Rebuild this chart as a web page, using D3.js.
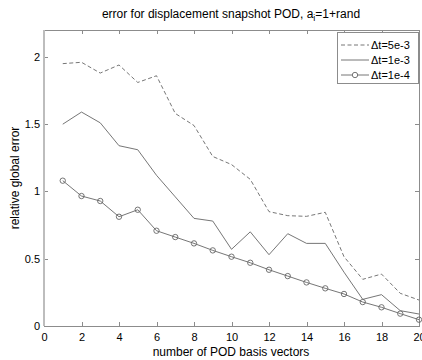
<!DOCTYPE html>
<html>
<head>
<meta charset="utf-8">
<script src="https://cdn.jsdelivr.net/npm/d3@7"></script>
<style>
  html, body { margin: 0; padding: 0; background: #fff; }
  svg { display: block; font-family: "Liberation Sans", Arial, Helvetica, sans-serif; }
</style>
</head>
<body>
<svg id="chart" width="422" height="360"></svg>
<script>
// Number of POD basis vectors
const basisCounts = [1,2,3,4,5,6,7,8,9,10,11,12,13,14,15,16,17,18,19,20];

// Relative global error for each time step
const errDt5e3 = [1.95,1.96,1.88,1.94,1.81,1.86,1.58,1.49,1.26,1.20,1.09,0.85,0.82,0.815,0.845,0.515,0.347,0.386,0.243,0.193];
const errDt1e3 = [1.50,1.59,1.51,1.34,1.31,1.12,0.96,0.80,0.78,0.57,0.70,0.53,0.686,0.614,0.614,0.40,0.198,0.233,0.114,0.089];
const errDt1e4 = [1.08,0.966,0.929,0.812,0.864,0.708,0.661,0.614,0.562,0.515,0.47,0.418,0.371,0.324,0.28,0.238,0.178,0.139,0.092,0.047];

const seriesLabels = ["\u0394t=5e-3", "\u0394t=1e-3", "\u0394t=1e-4"];
const xTicks = [0,2,4,6,8,10,12,14,16,18,20];
const yTicks = [0,0.5,1,1.5,2];

const svg = d3.select("#chart");
const m = { left: 44, right: 419, top: 30, bottom: 326 };

const x = d3.scaleLinear().domain([0, 20]).range([m.left, m.right]);
const y = d3.scaleLinear().domain([0, 2.2]).range([m.bottom, m.top]);

const axisCol = "#8c8c8c";
const lineCol = "#666";

// Frame
svg.append("rect")
  .attr("x", m.left).attr("y", m.top)
  .attr("width", m.right - m.left).attr("height", m.bottom - m.top)
  .attr("fill", "none").attr("stroke", axisCol).attr("stroke-width", 1)
  .attr("shape-rendering", "crispEdges");

// Bottom axis
const gx = svg.append("g").attr("transform", `translate(0,${m.bottom})`)
  .call(d3.axisBottom(x).tickValues(xTicks).tickSize(-4).tickPadding(7).tickFormat(d3.format("d")));
// Top ticks
const gxt = svg.append("g").attr("transform", `translate(0,${m.top})`)
  .call(d3.axisTop(x).tickValues(xTicks).tickSize(-4).tickFormat(""));
// Left axis
const gy = svg.append("g").attr("transform", `translate(${m.left},0)`)
  .call(d3.axisLeft(y).tickValues(yTicks).tickSize(-4).tickPadding(4).tickFormat(d => d3.format("")(d)));
// Right ticks
const gyr = svg.append("g").attr("transform", `translate(${m.right},0)`)
  .call(d3.axisRight(y).tickValues(yTicks).tickSize(-4).tickFormat(""));

[gx, gxt, gy, gyr].forEach(g => {
  g.select(".domain").remove();
  g.selectAll(".tick line").attr("stroke", axisCol).attr("shape-rendering", "crispEdges");
  g.selectAll(".tick text").attr("fill", "#000").attr("font-size", 11)
    .attr("font-family", "'Liberation Sans', Arial, sans-serif");
});

// Thicker light left spine
svg.append("line")
  .attr("x1", m.left).attr("x2", m.left).attr("y1", m.top).attr("y2", m.bottom)
  .attr("stroke", "#bdbdbd").attr("stroke-width", 2);

// Series lines
const line = d3.line().x((d, i) => x(basisCounts[i])).y(d => y(d));

svg.append("path").datum(errDt5e3).attr("d", line)
  .attr("fill", "none").attr("stroke", lineCol).attr("stroke-width", 0.9)
  .attr("stroke-dasharray", "4,2.5");
svg.append("path").datum(errDt1e3).attr("d", line)
  .attr("fill", "none").attr("stroke", lineCol).attr("stroke-width", 0.9);
svg.append("path").datum(errDt1e4).attr("d", line)
  .attr("fill", "none").attr("stroke", lineCol).attr("stroke-width", 0.9);
svg.selectAll("circle.mk").data(errDt1e4).enter().append("circle")
  .attr("class", "mk")
  .attr("cx", (d, i) => x(basisCounts[i])).attr("cy", d => y(d))
  .attr("r", 2.7).attr("fill", "none").attr("stroke", lineCol).attr("stroke-width", 0.9);

// Legend
const lg = svg.append("g");
lg.append("rect").attr("x", 337).attr("y", 32).attr("width", 81).attr("height", 51)
  .attr("fill", "#fff").attr("stroke", axisCol).attr("stroke-width", 1)
  .attr("shape-rendering", "crispEdges");
const rowsY = [45, 60, 75];
const dashes = ["4,2.5", null, null];
rowsY.forEach((ry, i) => {
  lg.append("line").attr("x1", 341).attr("x2", 369).attr("y1", ry).attr("y2", ry)
    .attr("stroke", lineCol).attr("stroke-width", 0.9)
    .attr("stroke-dasharray", dashes[i]);
  if (i === 2) {
    lg.append("circle").attr("cx", 355).attr("cy", ry).attr("r", 2.7)
      .attr("fill", "#fff").attr("stroke", lineCol).attr("stroke-width", 0.9);
  }
  lg.append("text").attr("x", 371).attr("y", ry).attr("dy", "0.35em")
    .attr("font-size", 11).attr("fill", "#000").text(seriesLabels[i]);
});

// Title
const title = svg.append("text").attr("x", 231).attr("y", 18)
  .attr("text-anchor", "middle").attr("font-size", 12).attr("fill", "#000");
title.append("tspan").text("error for displacement snapshot POD, a");
title.append("tspan").attr("font-size", 9).attr("dy", 3).text("i");
title.append("tspan").attr("dy", -3).text("=1+rand");

// Axis labels
svg.append("text").attr("x", 231).attr("y", 356)
  .attr("text-anchor", "middle").attr("font-size", 12).attr("fill", "#000")
  .text("number of POD basis vectors");
svg.append("text").attr("transform", "translate(19,178) rotate(-90)")
  .attr("text-anchor", "middle").attr("font-size", 12).attr("fill", "#000")
  .text("relative global error");
</script>
</body>
</html>
